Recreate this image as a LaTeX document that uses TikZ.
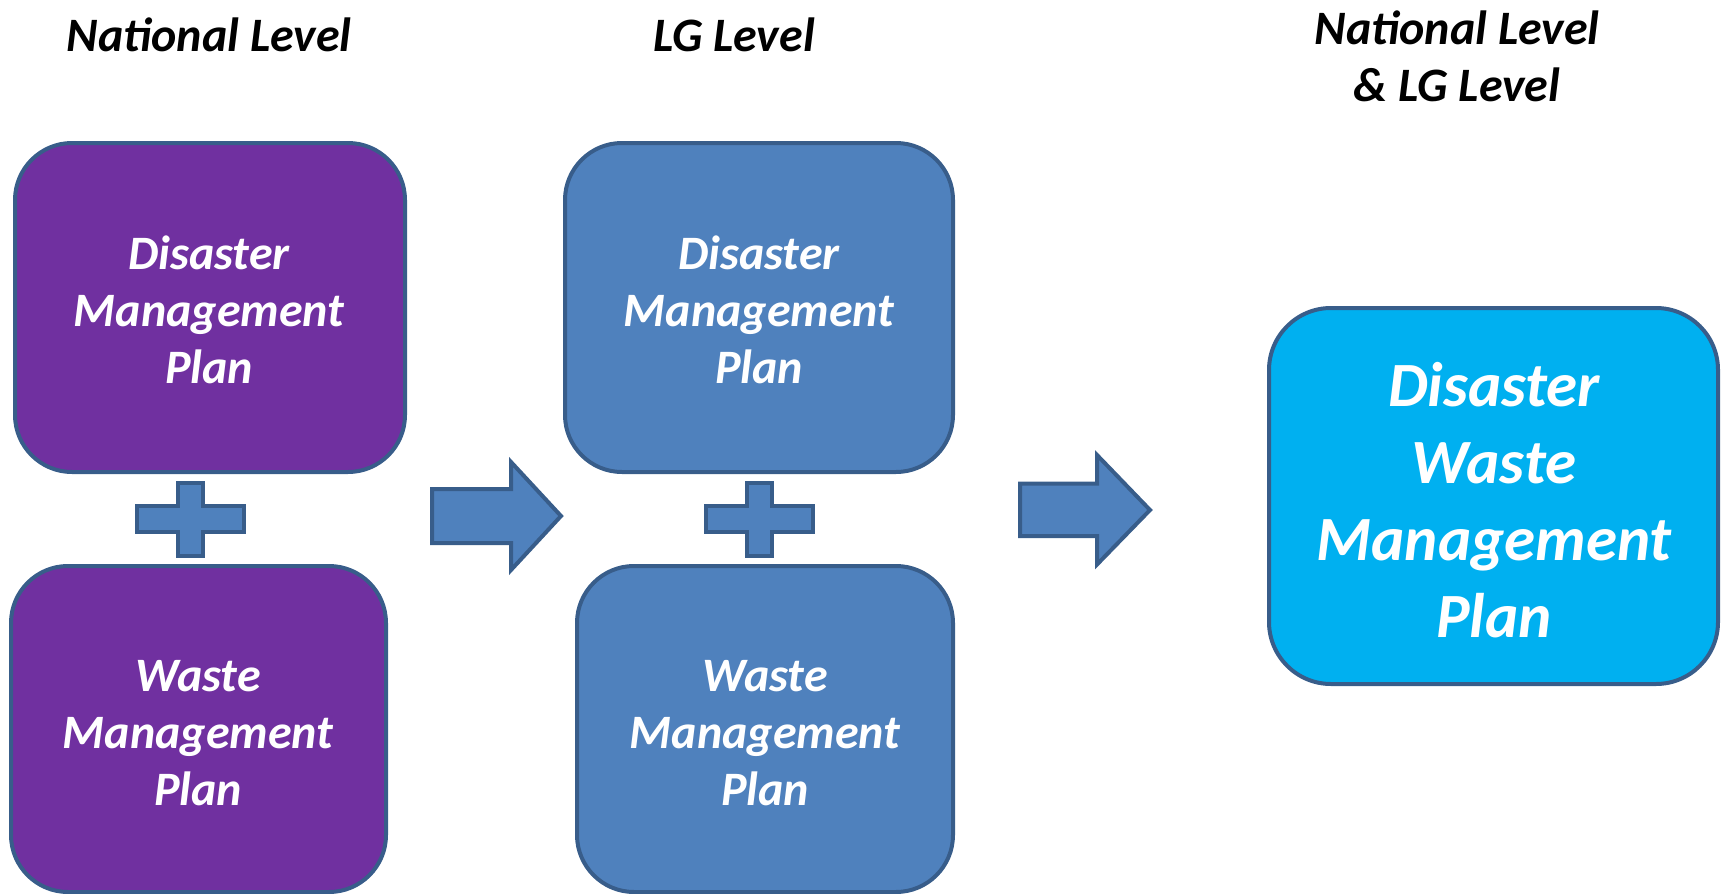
\documentclass[tikz,border=0pt]{standalone}
\usepackage{fontspec}
\setmainfont{Carlito}
\definecolor{purp}{HTML}{7030A0}
\definecolor{bluef}{HTML}{4F81BD}
\definecolor{cyanf}{HTML}{00B0F0}
\definecolor{edge}{HTML}{385D8A}
\tikzset{
  planbox/.style={draw=edge, line width=4pt, rounded corners=57pt},
  shapefill/.style={draw=edge, line width=4pt, fill=bluef, line join=miter},
  boxtext/.style={text=white, align=center, font=\fontsize{48}{57}\selectfont\bfseries\itshape, inner sep=0pt},
  bigtext/.style={text=white, align=center, font=\fontsize{63}{77}\selectfont\bfseries\itshape, inner sep=0pt},
  titletext/.style={text=black, align=center, font=\fontsize{48}{57}\selectfont\bfseries\itshape, inner sep=0pt}
}
\begin{document}
\begin{tikzpicture}[x=1pt,y=-1pt]
\useasboundingbox (0,0) rectangle (1724,894);
% titles
\node[titletext] (t1) at (209,35) {National Level};
\node[titletext] (t2) at (734,35) {LG Level};
\node[titletext] (t3) at (1457,56) {National Level\\\& LG Level};
% purple boxes
\draw[planbox, fill=purp] (15,143) rectangle (405,472);
\draw[planbox, fill=purp] (11,566) rectangle (386,892);
% blue boxes
\draw[planbox, fill=bluef] (565,143) rectangle (953,472);
\draw[planbox, fill=bluef] (577,566) rectangle (953,892);
% cyan box
\draw[planbox, fill=cyanf, rounded corners=62pt] (1269,308) rectangle (1718,684);
% texts
\node[boxtext] (p1) at (209,310) {Disaster\\Management\\Plan};
\node[boxtext] (p2) at (198,733) {Waste\\Management\\Plan};
\node[boxtext] (b1) at (759,310) {Disaster\\Management\\Plan};
\node[boxtext] (b2) at (765,733) {Waste\\Management\\Plan};
\node[bigtext] (c1) at (1494,500) {Disaster\\Waste\\Management\\Plan};
% plus signs
\draw[shapefill] (137,506) -- (177.5,506) -- (177.5,483) -- (203,483) -- (203,506) -- (243.5,506)
  -- (243.5,531.5) -- (203,531.5) -- (203,556) -- (177.5,556) -- (177.5,531.5) -- (137,531.5) -- cycle;
\draw[shapefill] (706,506) -- (746.5,506) -- (746.5,483) -- (772,483) -- (772,506) -- (812.5,506)
  -- (812.5,531.5) -- (772,531.5) -- (772,556) -- (746.5,556) -- (746.5,531.5) -- (706,531.5) -- cycle;
% arrows
\draw[shapefill] (432,489) -- (511,489) -- (511,462) -- (561,516) -- (511,570) -- (511,543) -- (432,543) -- cycle;
\draw[shapefill] (1020,483.5) -- (1097,483.5) -- (1097,455) -- (1150,510) -- (1097,564.5) -- (1097,536) -- (1020,536) -- cycle;
\end{tikzpicture}
\end{document}
